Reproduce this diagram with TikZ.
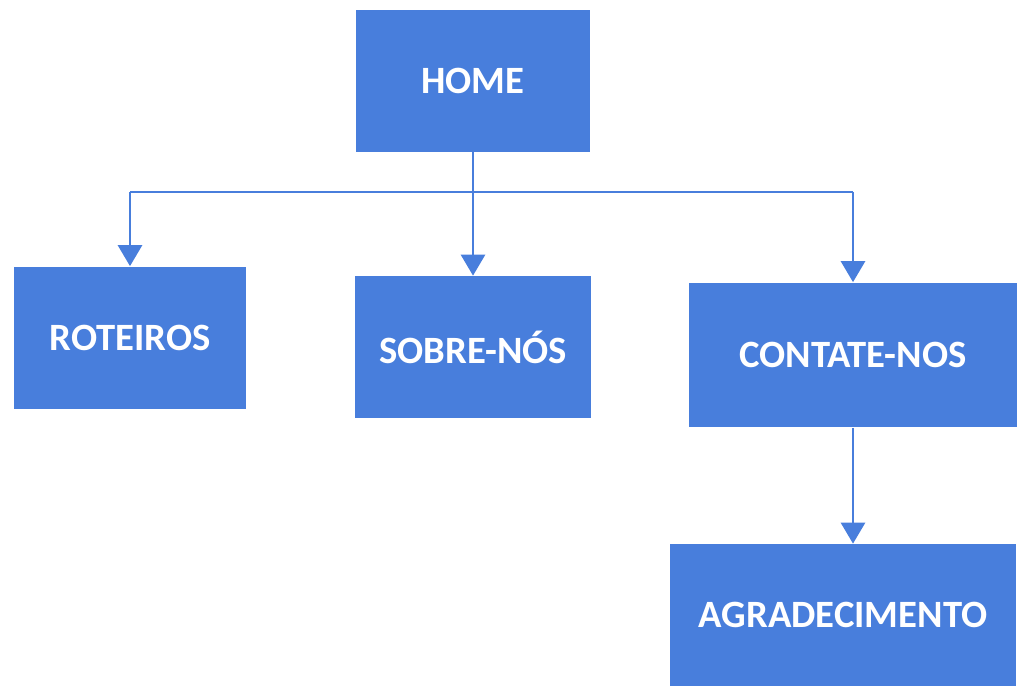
\documentclass[tikz,border=0pt]{standalone}
\usepackage{fontspec}
\setmainfont{Carlito}
\usetikzlibrary{arrows.meta}
\usetikzlibrary{positioning}
\definecolor{boxblue}{RGB}{72,126,220}

\begin{document}
\begin{tikzpicture}[x=0.02cm,y=-0.02cm,
  page/.style={rectangle,fill=boxblue,draw=none,text=white,font=\fontsize{22}{26}\selectfont\bfseries,minimum height=2.84cm,inner sep=0pt},
  link/.style={draw=boxblue,line width=1.6pt},
  linkarrow/.style={link,-{Triangle[width=0.48cm,length=0.42cm]}}]
\useasboundingbox (0,0) rectangle (1017,688);

\node[page,minimum width=4.68cm] (home) at (473,81) {HOME};
\node[page,minimum width=4.66cm,minimum height=2.86cm] (rot) at (130,338) {ROTEIROS};
\node[page,minimum width=4.72cm] (sobre) at (473,347) {SOBRE-NÓS};
\node[page,minimum width=6.56cm,minimum height=2.9cm] (cont) at (853,355) {CONTATE-NOS};
\node[page,minimum width=6.94cm] (agr) at (843,615) {AGRADECIMENTO};

\coordinate (bus) at (473,192);
\draw[linkarrow] (home.south) -- (sobre.north);
\draw[link] (bus -| rot.north) -- (bus -| cont.north);
\draw[linkarrow] (bus -| rot.north) -- (rot.north);
\draw[linkarrow] (bus -| cont.north) -- (cont.north);
\draw[linkarrow] (cont.south) -- (agr.north -| cont.south);

\end{tikzpicture}
\end{document}
